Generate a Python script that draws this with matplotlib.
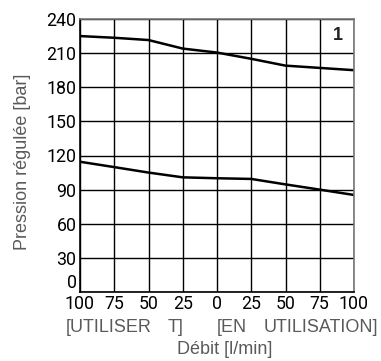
import matplotlib
matplotlib.use("Agg")
import matplotlib.pyplot as plt

x_vals = [-100, -75, -50, -25, 0, 25, 50, 75, 100]
upper = [225, 223.5, 221.5, 214, 210.5, 205, 199, 197, 195]
lower = [114.5, 109.8, 105, 100.8, 100, 99.4, 94.6, 90, 85.3]
xticks = [-100, -75, -50, -25, 0, 25, 50, 75, 100]
xticklabels = ["100", "75", "50", "25", "0", "25", "50", "75", "100"]
yticks = [0, 30, 60, 90, 120, 150, 180, 210, 240]

fig = plt.figure(figsize=(3.81, 3.61), dpi=100)
ax = fig.add_axes([80/381, 1 - 292/361, 274/381, 273/361])

ax.plot(x_vals, upper, color="black", lw=1.8)
ax.plot(x_vals, lower, color="black", lw=1.8)

ax.set_xlim(-100, 100)
ax.set_ylim(0, 240)
ax.set_xticks(xticks)
ax.set_xticklabels(xticklabels)
ax.set_yticks(yticks)
ax.grid(True, color="black", lw=1.0)
ax.set_axisbelow(True)
ax.tick_params(length=0, pad=2.5, labelsize=12.8, labelcolor="black")
for lab in ax.get_xticklabels() + ax.get_yticklabels():
    lab.set_family("Roboto")
ax.get_yticklabels()[0].set_verticalalignment("bottom")
for s in ["left", "bottom"]:
    ax.spines[s].set_color("black")
    ax.spines[s].set_linewidth(1.2)
for s in ["top", "right"]:
    ax.spines[s].set_color("#777777")
    ax.spines[s].set_linewidth(1.2)

fig.text(338/381, 1 - 36/361, "1", ha="center", va="center",
         fontsize=13, fontweight="bold", color="#222222", family="Liberation Sans")

gray = "#5a5a5a"
fam = "Liberation Sans"
fs = 13
fig.text(66/381, 1 - 328/361, "[UTILISER", fontsize=fs, color=gray, ha="left", va="center", family=fam)
fig.text(183/381, 1 - 328/361, "T]", fontsize=fs, color=gray, ha="right", va="center", family=fam)
fig.text(217/381, 1 - 328/361, "[EN", fontsize=fs, color=gray, ha="left", va="center", family=fam)
fig.text(378/381, 1 - 328/361, "UTILISATION]", fontsize=fs, color=gray, ha="right", va="center", family=fam)
fig.text(225/381, 1 - 350/361, "Débit [l/min]", fontsize=fs, color=gray, ha="center", va="center", family=fam)
fig.text(23/381, 1 - 162/361, "Pression régulée [bar]", fontsize=fs, color=gray,
         ha="center", va="center", rotation=90, family=fam)

fig.savefig("out.png", dpi=100)
